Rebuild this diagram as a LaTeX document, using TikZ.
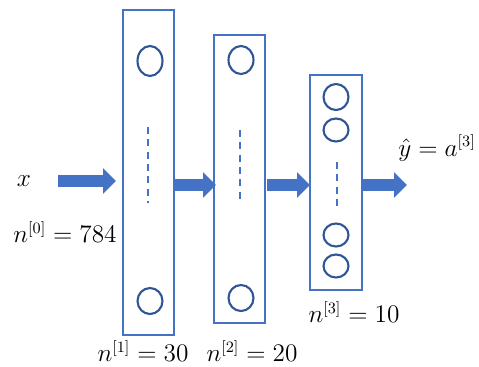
\documentclass[tikz,border=0pt]{standalone}
\usepackage{amsmath}
\usetikzlibrary{positioning,shapes.geometric,arrows.meta}
\definecolor{boxblue}{HTML}{4472C4}
\definecolor{nodeblue}{HTML}{2F5597}
\tikzset{
  layer/.style={draw=boxblue, line width=0.7pt, inner sep=0pt, outer sep=0pt},
  neuron/.style={ellipse, draw=nodeblue, line width=1.2pt, minimum width=0.5cm, minimum height=0.52cm, inner sep=0pt},
  dots/.style={boxblue, line width=1.6pt, dash pattern=on 4pt off 3pt},
  blockarrow/.style={boxblue, line width=0.25cm, -{Triangle[length=0.26cm,width=0.5cm]}},
  lbl/.style={font=\fontsize{13.5pt}{16pt}\selectfont, inner sep=1pt}
}
\begin{document}
\begin{tikzpicture}[x=0.02cm,y=-0.02cm]
        \useasboundingbox (0,0) rectangle (479,366);
        % layers
        \node[layer, minimum width=1.02cm, minimum height=6.5cm] (l1) at (148.5,172.5) {};
        \node[layer, minimum width=1.02cm, minimum height=5.76cm] (l2) at (239.5,179) {};
        \node[layer, minimum width=1.04cm, minimum height=4.3cm] (l3) at (336,182.5) {};
        % units
        \node[neuron, minimum height=0.6cm] (a11) at (150,61) {};
        \node[neuron] (a12) at (150,301) {};
        \node[neuron, minimum height=0.56cm] (a21) at (241,60) {};
        \node[neuron] (a22) at (241,298) {};
        \node[neuron] (a31) at (336,97) {};
        \node[neuron, minimum height=0.46cm] (a32) at (336,130) {};
        \node[neuron, minimum height=0.46cm] (a33) at (336,235) {};
        \node[neuron, minimum height=0.46cm] (a34) at (336,266) {};
        \draw[dots] (148,127) -- (148,203);
        \draw[dots] (240,130) -- (240,200);
        \draw[dots] (337,162) -- (337,208);
        % labels
        \node[lbl] (x) at (24,181) {$x$};
        \node[lbl] (n0) at (65,232) {$n^{[0]} = 784$};
        \node[lbl] (n1) at (143,351) {$n^{[1]} = 30$};
        \node[lbl] (n2) at (252,351) {$n^{[2]} = 20$};
        \node[lbl] (n3) at (354,312) {$n^{[3]} = 10$};
        \node[lbl] (yhat) at (437,148) {$\hat{y} = a^{[3]}$};
        % arrows
        \coordinate (in) at (58,181);
        \coordinate (row) at (0,185);
        \coordinate (out) at (407,185);
        \draw[blockarrow] (in) -- ([xshift=-0.14cm]l1.west |- in);
        \draw[blockarrow] (l1.east |- row) -- ([xshift=0.04cm]l2.west |- row);
        \draw[blockarrow] ([xshift=0.03cm]l2.east |- row) -- (l3.west |- row);
        \draw[blockarrow] (l3.east |- row) -- (out);
    \end{tikzpicture}
\end{document}
